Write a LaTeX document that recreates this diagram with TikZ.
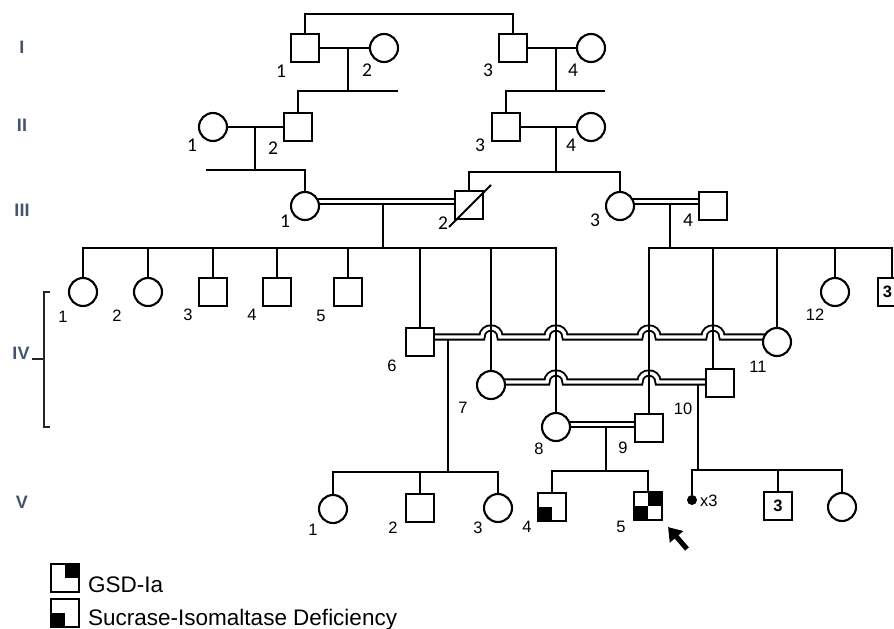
\documentclass[tikz,border=0pt]{standalone}
\usepackage{fontspec}
\setmainfont{Liberation Sans}
\newfontfamily\calfont{Carlito}
\usetikzlibrary{calc,arrows.meta}
\pgfdeclarelayer{bg}
\pgfsetlayers{bg,main}
\definecolor{gencol}{RGB}{68,84,106}
\newcommand{\numfont}{\fontsize{16.5}{18}\selectfont}
\newcommand{\upnumfont}{\calfont\fontsize{19.5}{21}\selectfont}
\newcommand{\genfont}{\bfseries\fontsize{18}{20}\selectfont}
\newcommand{\legfont}{\fontsize{22.5}{24}\selectfont}
\begin{document}
\begin{tikzpicture}[x=1pt,y=-1pt,
  ped/.style={line width=2.1pt},
  male/.style={draw,line width=2.1pt,fill=white,rectangle,minimum size=28pt,inner sep=0pt},
  female/.style={draw,line width=2.1pt,fill=white,circle,minimum size=28pt,inner sep=0pt},
  mate/.style={draw,line width=1.9pt,double=white,double distance=3.4pt},
  num/.style={font=\numfont,inner sep=0pt},
  upnum/.style={font=\upnumfont,inner sep=0pt},
  gen/.style={font=\genfont,text=gencol,inner sep=0pt},
  brk/.style={line width=1.3pt,draw=black!85},
  legtext/.style={font=\legfont,inner sep=0pt,anchor=base west}
]
\useasboundingbox (0,0) rectangle (894,629);
\clip (0,0) rectangle (894,629);

% ---------- generation labels ----------
\node[gen] (gI)   at (22,47)  {I};
\node[gen] (gII)  at (22,125) {II};
\node[gen] (gIII) at (22,210) {III};
\node[gen] (gIV)  at (21,353) {IV};
\node[gen] (gV)   at (22,502) {V};
\coordinate (brT) at (44,292);
\coordinate (brB) at (44,427);
\coordinate (brTt) at (50,292);
\coordinate (brBt) at (50,427);
\coordinate (brM) at (44,359);
\coordinate (brMl) at (32,359);
\draw[brk] (brTt) -- (brT) -- (brB) -- (brBt);
\draw[brk] (brMl) -- (brM);

% ---------- individuals ----------
% generation I
\node[male]   (i1) at (305,48) {};
\node[female] (i2) at (384,48) {};
\node[male]   (i3) at (513,48) {};
\node[female] (i4) at (591,48) {};
% generation II
\node[female] (ii1) at (213,127) {};
\node[male]   (ii2) at (298,127) {};
\node[male]   (ii3) at (506,127) {};
\node[female] (ii4) at (591,127) {};
% generation III
\node[female] (iii1) at (305,206) {};
\node[male]   (iii2) at (469,205) {};
\node[female] (iii3) at (620,206) {};
\node[male]   (iii4) at (713,206) {};
\draw[ped] ($(iii2)+(-20,22)$) -- ($(iii2)+(22,-20)$);
% generation IV
\node[female] (iv1)  at (83,292)  {};
\node[female] (iv2)  at (148,292) {};
\node[male]   (iv3)  at (213,292) {};
\node[male]   (iv4)  at (277,292) {};
\node[male]   (iv5)  at (348,292) {};
\node[male]   (iv6)  at (420,342) {};
\node[female] (iv7)  at (491,385) {};
\node[female] (iv8)  at (556,427) {};
\node[male]   (iv9)  at (649,428) {};
\node[male]   (iv10) at (720,383) {};
\node[female] (iv11) at (777,342) {};
\node[female] (iv12) at (835,292) {};
\node[male,font=\numfont\bfseries] (iv13) at (892,292) {3\kern9pt};
% generation V
\node[female] (v1) at (333,509) {};
\node[male]   (v2) at (420,508) {};
\node[female] (v3) at (498,508) {};
\node[male]   (v4) at (552,507) {};
\node[male]   (v5) at (648,506) {};
\node[circle,fill=black,minimum size=10pt,inner sep=0pt] (v6) at (692,500) {};
\node[male,font=\numfont\bfseries] (v7) at (778,506) {3};
\node[female] (v8) at (842,507) {};
% affected quadrants
\fill (v4.south west) rectangle (v4.center);
\fill (v5.south west) rectangle (v5.center);
\fill (v5.center) rectangle (v5.north east);
\node[num,anchor=west] (x3) at (700,501) {x3};
% proband arrow
\coordinate (arT) at (687,549);
\draw[line width=5pt,-{Triangle[length=13pt,width=17pt]}] (arT) -- ($(v5.south east)+(5,6)$);

% ---------- numbers ----------
\node[upnum] (n-i1) at (281,71) {1};
\node[upnum] (n-i2) at (367,70) {2};
\node[upnum] (n-i3) at (488,70) {3};
\node[upnum] (n-i4) at (573,70) {4};
\node[upnum] (n-ii1) at (192,145) {1};
\node[upnum] (n-ii2) at (273,148) {2};
\node[upnum] (n-ii3) at (480,145) {3};
\node[upnum] (n-ii4) at (571,145) {4};
\node[upnum] (n-iii1) at (285,221) {1};
\node[upnum] (n-iii2) at (443,223) {2};
\node[upnum] (n-iii3) at (595,220) {3};
\node[upnum] (n-iii4) at (688,220) {4};
\node[num] (n-iv1)  at (63,317)  {1};
\node[num] (n-iv2)  at (117,316) {2};
\node[num] (n-iv3)  at (188,315) {3};
\node[num] (n-iv4)  at (252,315) {4};
\node[num] (n-iv5)  at (321,316) {5};
\node[num] (n-iv6)  at (392,366) {6};
\node[num] (n-iv7)  at (463,408) {7};
\node[num] (n-iv8)  at (539,449) {8};
\node[num] (n-iv9)  at (623,448) {9};
\node[num] (n-iv10) at (683,409) {10};
\node[num] (n-iv11) at (758,367) {11};
\node[num] (n-iv12) at (815,315) {12};
\node[num] (n-v1) at (313,530) {1};
\node[num] (n-v2) at (393,528) {2};
\node[num] (n-v3) at (478,528) {3};
\node[num] (n-v4) at (527,527) {4};
\node[num] (n-v5) at (621,527) {5};

% ---------- legend ----------
\node[male] (lg1) at (65,578) {};
\node[male] (lg2) at (65,613) {};
\fill (lg1.center) rectangle (lg1.north east);
\fill (lg2.south west) rectangle (lg2.center);
\node[legtext] (lt1) at (88,592) {GSD-Ia};
\node[legtext] (lt2) at (88,625) {Sucrase-Isomaltase Deficiency};

% ---------- lines of descent ----------
\begin{pgfonlayer}{bg}
% consanguineous unions
\draw[mate] ($(iii1)+(0,-4.5)$) -- ($(iii2)+(0,-3.5)$);
\draw[mate] ($(iii3)+(0,-4.5)$) -- ($(iii4)+(0,-4.5)$);
\draw[mate] ($(iv6)+(0,-5)$) -- (482,337)
  .. controls (482,325) and (500,325) .. (500,337) -- (547,337)
  .. controls (547,325) and (565,325) .. (565,337) -- (640,337)
  .. controls (640,325) and (658,325) .. (658,337) -- (704,337)
  .. controls (704,325) and (722,325) .. (722,337) -- ($(iv11)+(0,-5)$);
\draw[mate] ($(iv7)+(0,-3)$) -- (547,382)
  .. controls (547,370) and (565,370) .. (565,382) -- (640,382)
  .. controls (640,370) and (658,370) .. (658,382) -- ($(iv10)+(0,-1)$);
\draw[mate] ($(iv8)+(0,-2.5)$) -- ($(iv9)+(0,-3.5)$);

% single unions
\draw[ped] (i1) -- (i2);
\draw[ped] (i3) -- (i4);
\draw[ped] (ii1) -- (ii2);
\draw[ped] (ii3) -- (ii4);

% generation I
\coordinate (c0) at (409,14);
\draw[ped] (i1.north) |- (c0) -| (i3.north);
\coordinate (d1) at (348,48);
\coordinate (b1) at (348,91);
\coordinate (b1e) at (398,91);
\draw[ped] (d1) -- (b1);
\draw[ped] (ii2.north) |- (b1e);
\coordinate (d2) at (556,48);
\coordinate (b2) at (556,91);
\coordinate (b2e) at (605,91);
\draw[ped] (d2) -- (b2);
\draw[ped] (ii3.north) |- (b2e);

% generation II
\coordinate (d3) at (255,127);
\coordinate (b3) at (255,170);
\coordinate (b3w) at (206,170);
\draw[ped] (d3) -- (b3);
\draw[ped] (b3w) -| (iii1.north);
\coordinate (d4) at (556,127);
\coordinate (b4) at (556,172);
\draw[ped] (d4) -- (b4);
\draw[ped] (iii2.north) |- (b4) -| (iii3.north);

% generation III
\coordinate (d5) at (383,204);
\coordinate (b5) at (383,248);
\coordinate (b5e) at (556,248);
\draw[ped] (d5) -- (b5);
\draw[ped] (iv1.north) |- (b5e) -- (iv8.north);
\foreach \n in {iv2,iv3,iv4,iv5,iv6,iv7}
  \draw[ped] (\n.north) -- (\n.north |- b5);
\coordinate (d6) at (670,204);
\coordinate (b6) at (670,248);
\coordinate (b6e) at (892,248);
\draw[ped] (d6) -- (b6);
\draw[ped] (iv9.north) |- (b6e) -- (iv13.north);
\coordinate (k10) at ($(iv10.north)+(-7,0)$);
\draw[ped] (k10) -- (k10 |- b6);
\foreach \n in {iv11,iv12}
  \draw[ped] (\n.north) -- (\n.north |- b6);

% generation IV
\coordinate (d7) at (448,340);
\coordinate (b7) at (448,472);
\draw[ped] (d7) -- (b7);
\draw[ped] (v1.north) |- (b7) -| (v3.north);
\draw[ped] (v2.north) -- (v2.north |- b7);
\coordinate (d8) at (606,427);
\coordinate (b8) at (606,471);
\draw[ped] (d8) -- (b8);
\draw[ped] (v4.north) |- (b8) -| (v5.north);
\coordinate (d9) at (698,385);
\coordinate (b9) at (698,470);
\draw[ped] (d9) -- (b9);
\draw[ped] (v6.north) |- (b9) -| (v8.north);
\draw[ped] (v7.north) -- (v7.north |- b9);
\end{pgfonlayer}
\end{tikzpicture}
\end{document}
